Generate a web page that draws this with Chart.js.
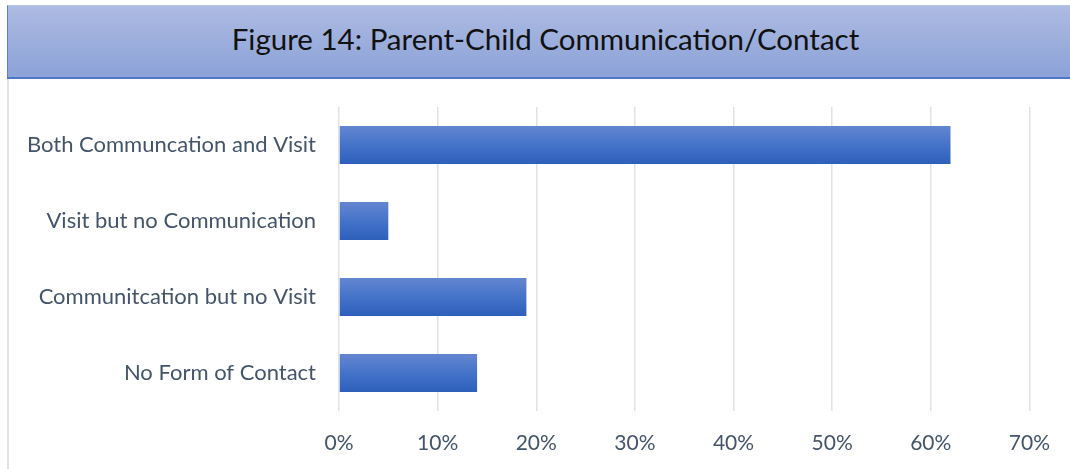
<!DOCTYPE html>
<html>
<head>
<meta charset="utf-8">
<title>Parent-Child Communication/Contact</title>
<script src="https://cdn.jsdelivr.net/npm/chart.js@4/dist/chart.umd.min.js"></script>
<style>
  html, body { margin: 0; padding: 0; background: #ffffff; }
  #cadre {
    position: relative;
    width: 1070px;
    height: 469px;
    overflow: hidden;
  }
  #bordure {
    position: absolute;
    left: 7px; top: 78px; bottom: 0;
    width: 2px;
    background: #dfe3ea;
  }
  #bandeau {
    position: absolute;
    left: 7px; top: 5px;
    width: 1070px; height: 74px;
    box-sizing: border-box;
    border-left: 1px solid #5b7fcc;
    border-top: 1px solid #b6c3e6;
    border-bottom: 2px solid #4f77c6;
    background: linear-gradient(to bottom, #aebbe2 0%, #9aaddc 55%, #8ca2d8 100%);
    font-family: 'Lato', sans-serif;
    font-size: 29.5px;
    color: #111111;
    line-height: 66px;
    text-align: center;
    padding-left: 6px;
  }
  #graphique { position: absolute; left: 0; top: 0; }
</style>
</head>
<body>
<div id="cadre">
  <div id="bordure"></div>
  <div id="bandeau">Figure 14: Parent-Child Communication/Contact</div>
  <canvas id="graphique" width="1070" height="469"></canvas>
</div>
<script>
'use strict';

/* === DONNÉES === */
const CATEGORIES = [
  'Both Communcation and Visit',
  'Visit but no Communication',
  'Communitcation but no Visit',
  'No Form of Contact'
];
const POURCENTAGES = [62, 5, 19, 14];
const GRADUATIONS = [0, 10, 20, 30, 40, 50, 60, 70];

const COULEUR_TEXTE = '#44546a';
const POLICE = "'Lato', sans-serif";

/* dégradé vertical propre à chaque barre */
function degradeBarre(ctx) {
  const chart = ctx.chart;
  const y = chart.scales.y;
  if (!chart.chartArea || !y || ctx.dataIndex === undefined) return '#4472c4';
  const centre = y.getPixelForValue(ctx.dataIndex);
  const demi = (chart.chartArea.bottom - chart.chartArea.top) / CATEGORIES.length / 4;
  const g = chart.ctx.createLinearGradient(0, centre - demi, 0, centre + demi);
  g.addColorStop(0, '#6386d1');
  g.addColorStop(0.5, '#4473c9');
  g.addColorStop(1, '#2d5fbb');
  return g;
}

new Chart(document.getElementById('graphique'), {
  type: 'bar',
  data: {
    labels: CATEGORIES,
    datasets: [{
      data: POURCENTAGES,
      backgroundColor: degradeBarre,
      borderWidth: 0,
      barPercentage: 0.5,
      categoryPercentage: 1
    }]
  },
  options: {
    indexAxis: 'y',
    responsive: false,
    animation: false,
    devicePixelRatio: 1,
    layout: { padding: { top: 107, right: 35, left: 0, bottom: 0 } },
    plugins: {
      legend: { display: false },
      tooltip: { enabled: false }
    },
    scales: {
      x: {
        min: 0,
        max: 70,
        afterBuildTicks: axe => { axe.ticks = GRADUATIONS.map(v => ({ value: v })); },
        afterFit: axe => { axe.height = 58; },
        grid: { color: '#dfe2e8', lineWidth: 1.5, drawTicks: false },
        border: { display: false },
        ticks: {
          padding: 20,
          color: COULEUR_TEXTE,
          font: { family: POLICE, size: 21 },
          callback: v => v + '%'
        }
      },
      y: {
        afterFit: axe => { axe.width = 339; },
        grid: { display: false, drawTicks: false },
        border: { display: false },
        ticks: {
          padding: 23,
          color: COULEUR_TEXTE,
          font: { family: POLICE, size: 22 }
        }
      }
    }
  }
});
</script>
</body>
</html>
